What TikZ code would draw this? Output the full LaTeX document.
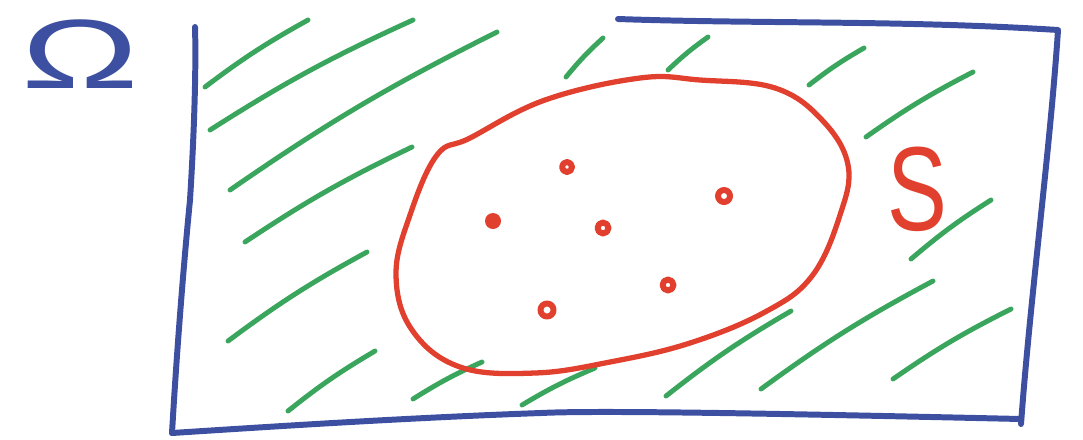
\documentclass[tikz,border=0pt]{standalone}
\usepackage{fontspec}
\usepackage{tikz}
\newfontfamily\sketchfont{Liberation Sans}
\definecolor{penblue}{HTML}{3D4FA0}
\definecolor{pengreen}{HTML}{3AA55C}
\definecolor{penred}{HTML}{E2402F}

\begin{document}
\begin{tikzpicture}[x=0.01cm,y=-0.01cm,line cap=round,line join=round,
  frame/.style={draw=penblue,line width=1.7pt},
  hatch/.style={draw=pengreen,line width=1.4pt},
  setline/.style={draw=penred,line width=1.5pt},
  pt/.style={draw=penred,line width=1.7pt},
  lbl/.style={inner sep=0pt,font=\sketchfont}]
  \useasboundingbox (0,0) rectangle (1083,439);

  % hatching of the complement (drawn first)
  \foreach \ax/\ay/\bx/\by in {205/87/308/20, 210/130/413/20, 230/190/497/32,
      245/242/412/147, 228/341/367/252, 288/411/375/351, 413/399/482/362,
      522/405/595/368, 666/396/791/311, 761/389/933/281, 893/379/1011/309,
      911/259/991/200, 566/77/603/38, 668/70/708/37, 809/85/864/48, 866/137/973/72}
    { \draw[hatch] (\ax,\ay) to[bend left=4] (\bx,\by); }

  % the sample space
  \draw[frame] (618,19) .. controls (760,24) and (900,20) .. (1058,30)
    .. controls (1050,150) and (1030,300) .. (1021,424);
  \draw[frame] (1021,419) .. controls (800,414) and (600,410) .. (541,413)
    .. controls (400,418) and (250,428) .. (172,433);
  \draw[frame] (172,433) .. controls (178,330) and (186,240) .. (190,200)
    .. controls (195,120) and (196,60) .. (195,27);

  % the set S
  \draw[setline] plot[smooth cycle,tension=0.65] coordinates {(640,78) (545,100)
    (470,138) (437,155) (410,215) (396,275) (412,330) (460,367) (535,373)
    (610,362) (690,343) (765,312) (812,276) (840,215) (848,165) (822,120)
    (775,88) (700,80)};

  % points of S
  \fill[penred] (493,221) circle[radius=0.08cm];
  \draw[pt] (567,167) circle[radius=0.05cm];
  \draw[pt] (603,228) circle[radius=0.055cm];
  \draw[pt] (724,196) circle[radius=0.06cm];
  \draw[pt] (668,285) circle[radius=0.055cm];
  \draw[pt] (547,310) circle[radius=0.065cm];

  \node[lbl,text=penblue,font=\sketchfont\fontsize{28}{30}\selectfont,xscale=1.6] (omega) at (80,54) {Ω};
  \node[lbl,text=penred,font=\sketchfont\fontsize{34}{38}\selectfont,xscale=0.75] (setlabel) at (917,189) {S};
\end{tikzpicture}
\end{document}
